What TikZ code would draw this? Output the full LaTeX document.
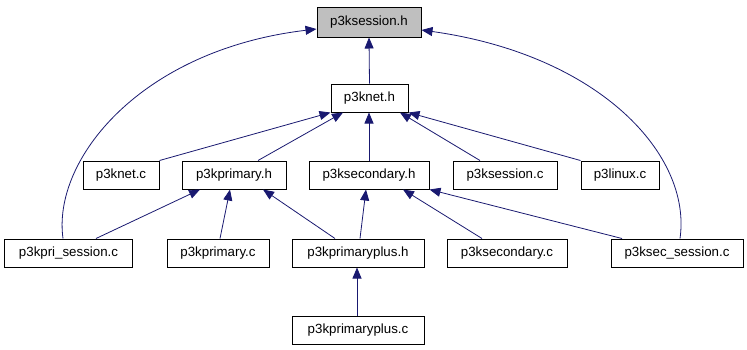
\documentclass[tikz,border=0pt]{standalone}
\usepackage{fontspec}
\setmainfont{Liberation Sans}
\usetikzlibrary{arrows.meta,calc}
\definecolor{edgeblue}{HTML}{191970}
\definecolor{focusgray}{HTML}{BFBFBF}
\begin{document}
\begin{tikzpicture}[x=1bp,y=-1bp,
  file/.style={draw=black,line width=1bp,minimum height=28bp,inner sep=0pt,
    font=\fontsize{13.3bp}{15bp}\selectfont},
  dep/.style={draw=edgeblue,line width=0.8bp,-{Triangle[length=11bp,width=9bp]}},
]
\useasboundingbox (0,0) rectangle (747,349);

% header files and sources
\node[file,fill=focusgray,minimum width=104bp,minimum height=30bp] (sessh) at (369,22) {p3ksession.h};
\node[file,minimum width=77bp]  (neth)     at (369.5,98) {p3knet.h};

\node[file,minimum width=76bp]  (netc)     at (121,175) {p3knet.c};
\node[file,minimum width=104bp] (primh)    at (234,175) {p3kprimary.h};
\node[file,minimum width=120bp] (sech)     at (369,175) {p3ksecondary.h};
\node[file,minimum width=104bp] (sessc)    at (505,175) {p3ksession.c};
\node[file,minimum width=78bp]  (linuxc)   at (620,175) {p3linux.c};

\node[file,minimum width=127bp] (prisessc) at (68.5,253) {p3kpri\_session.c};
\node[file,minimum width=102bp] (primc)    at (218,253) {p3kprimary.c};
\node[file,minimum width=132bp] (pplush)   at (358,253) {p3kprimaryplus.h};
\node[file,minimum width=120bp] (secc)     at (507,253) {p3ksecondary.c};
\node[file,minimum width=132bp] (secsessc) at (677,253) {p3ksec\_session.c};

\node[file,minimum width=132bp] (pplusc)   at (358,330) {p3kprimaryplus.c};

% include dependencies
\draw[dep] (neth.north) -- (sessh.south);
\draw[dep] ($(prisessc.north)+(-5.5,0)$) .. controls (52,160) and (140,50) .. ($(sessh.west)+(0,7)$);
\draw[dep] ($(secsessc.north)+(3,0)$) .. controls (692,155) and (600,55) .. ($(sessh.east)+(0,8)$);

\draw[dep] (netc.north east) -- (neth.south west);
\draw[dep] ($(primh.north)+(24,0)$) -- ($(neth.south)+(-26.5,0)$);
\draw[dep] (sech.north) -- (sech.north |- neth.south);
\draw[dep] ($(sessc.north)+(-25,0)$) -- ($(neth.south)+(30.5,0)$);
\draw[dep] (linuxc.north west) -- (neth.south east);

\draw[dep] ($(prisessc.north)+(27.5,0)$) -- ($(primh.south)+(-34,0)$);
\draw[dep] ($(primc.north)+(2,0)$) -- ($(primh.south)+(-4,0)$);
\draw[dep] ($(pplush.north)+(-23,0)$) -- ($(primh.south)+(29,0)$);
\draw[dep] ($(pplush.north)+(2,0)$) -- ($(sech.south)+(-3,0)$);
\draw[dep] ($(secc.north)+(-25,0)$) -- ($(sech.south)+(34,0)$);
\draw[dep] ($(secsessc.north)+(-55,0)$) -- (sech.south east);

\draw[dep] (pplusc.north -| pplush.south) ++(-1,0) -- ($(pplush.south)+(-1,0)$);
\end{tikzpicture}
\end{document}
